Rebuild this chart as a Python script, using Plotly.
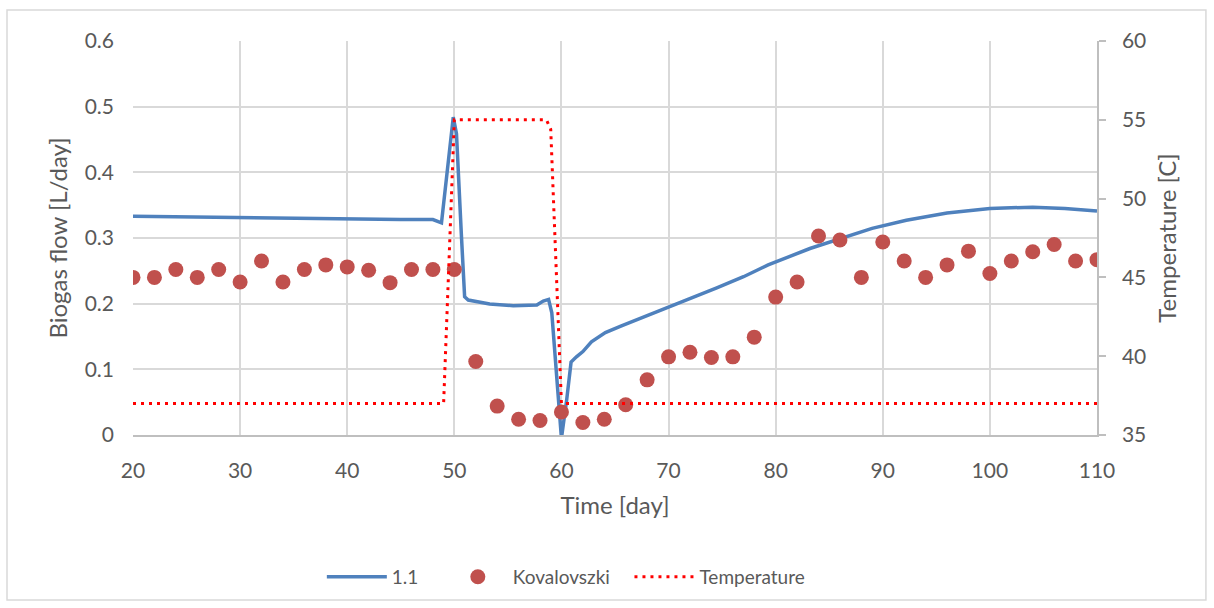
import plotly.graph_objects as go

# Model "1.1" biogas flow
model_time = [20, 25, 30, 35, 40, 45, 48, 48.8, 49.9, 50.2, 50.65, 50.96, 51.3, 52, 53.3,
              55.5, 57.7, 58.3, 58.8, 59.1, 59.6, 60.0, 60.5, 60.9, 61.4, 62.0, 62.8, 64.1,
              65.6, 67.3, 69.7, 72.0, 74.5, 77.0, 79.3, 83.2, 89.0, 92.2, 96, 100, 104, 107, 110]
model_flow = [0.333, 0.332, 0.330, 0.329, 0.328, 0.328, 0.328, 0.323, 0.484, 0.459, 0.307,
              0.2105, 0.2055, 0.203, 0.1994, 0.197, 0.198, 0.204, 0.2065, 0.186, 0.079, -0.005,
              0.055, 0.111, 0.119, 0.127, 0.142, 0.156, 0.166, 0.177, 0.193, 0.207, 0.224,
              0.241, 0.259, 0.284, 0.3146, 0.327, 0.338, 0.345, 0.347, 0.345, 0.341]

# Kovalovszki measurements
kov_time = list(range(20, 111, 2))
kov_flow = [0.240, 0.240, 0.252, 0.240, 0.252, 0.233, 0.265, 0.233, 0.252, 0.259, 0.256,
            0.251, 0.232, 0.252, 0.252, 0.252, 0.112, 0.044, 0.024, 0.022, 0.035, 0.019,
            0.024, 0.046, 0.084, 0.119, 0.126, 0.118, 0.119, 0.149, 0.210, 0.233, 0.303,
            0.297, 0.240, 0.294, 0.265, 0.240, 0.259, 0.280, 0.246, 0.265, 0.279, 0.290,
            0.265, 0.267]

# Temperature
temp_time = [20, 49, 50, 58.6, 59.0, 60, 110]
temp_val = [37, 37, 55, 55, 54.4, 37, 37]

FONT = "Lato"
GREY = "#595959"
GRID = "#d9d9d9"
AXIS = "#bfbfbf"
NB = "\u00a0"

fig = go.Figure()
fig.add_trace(go.Scatter(x=model_time, y=model_flow, mode="lines", name="1.1" + NB * 4,
                         line=dict(color="#4F81BD", width=3.5)))
fig.add_trace(go.Scatter(x=kov_time, y=kov_flow, mode="markers", name="Kovalovszki" + NB * 3,
                         marker=dict(color="#C0504D", size=15)))
fig.add_trace(go.Scatter(x=temp_time, y=temp_val, mode="lines", name="Temperature",
                         yaxis="y2", line=dict(color="#FF0000", width=3, dash="3px,5px")))

fig.update_layout(
    width=1214, height=608,
    margin=dict(l=133, r=117, t=41, b=173),
    paper_bgcolor="white", plot_bgcolor="white",
    font=dict(family=FONT, size=18, color=GREY),
    xaxis=dict(range=[20, 110], dtick=10, tick0=20, showgrid=True, gridcolor=GRID,
               gridwidth=1.5, zeroline=False, showline=True, linecolor=AXIS, linewidth=1.5,
               ticks="", ticklabelstandoff=16,
               title=dict(text="Time [day]", font=dict(size=24, color=GREY), standoff=16),
               tickfont=dict(size=21, color=GREY)),
    yaxis=dict(range=[0, 0.6], dtick=0.1, showgrid=True, gridcolor=GRID, gridwidth=1.5,
               zeroline=False, ticks="", tickformat="~g", ticklabelstandoff=18,
               title=dict(text="Biogas flow [L/day]", font=dict(size=24, color=GREY), standoff=10),
               tickfont=dict(size=21, color=GREY)),
    yaxis2=dict(range=[35, 60], dtick=5, overlaying="y", side="right", showgrid=False,
                zeroline=False, showline=True, linecolor=AXIS, linewidth=1.5,
                ticks="outside", ticklen=7, tickcolor=AXIS, tickwidth=1.5, ticklabelstandoff=12,
                title=dict(text="Temperature [C]", font=dict(size=24, color=GREY), standoff=14),
                tickfont=dict(size=21, color=GREY)),
    legend=dict(orientation="h", x=0.449, xanchor="center", y=-0.36, yanchor="middle",
                font=dict(size=19, color=GREY), bgcolor="rgba(0,0,0,0)", itemwidth=60),
    shapes=[dict(type="rect", xref="paper", yref="paper", x0=-0.1307, x1=1.113,
                 y0=-0.4188, y1=1.0787, line=dict(color="#d9d9d9", width=1.5),
                 fillcolor="rgba(0,0,0,0)", layer="below")],
)

fig.write_html("out.html")
